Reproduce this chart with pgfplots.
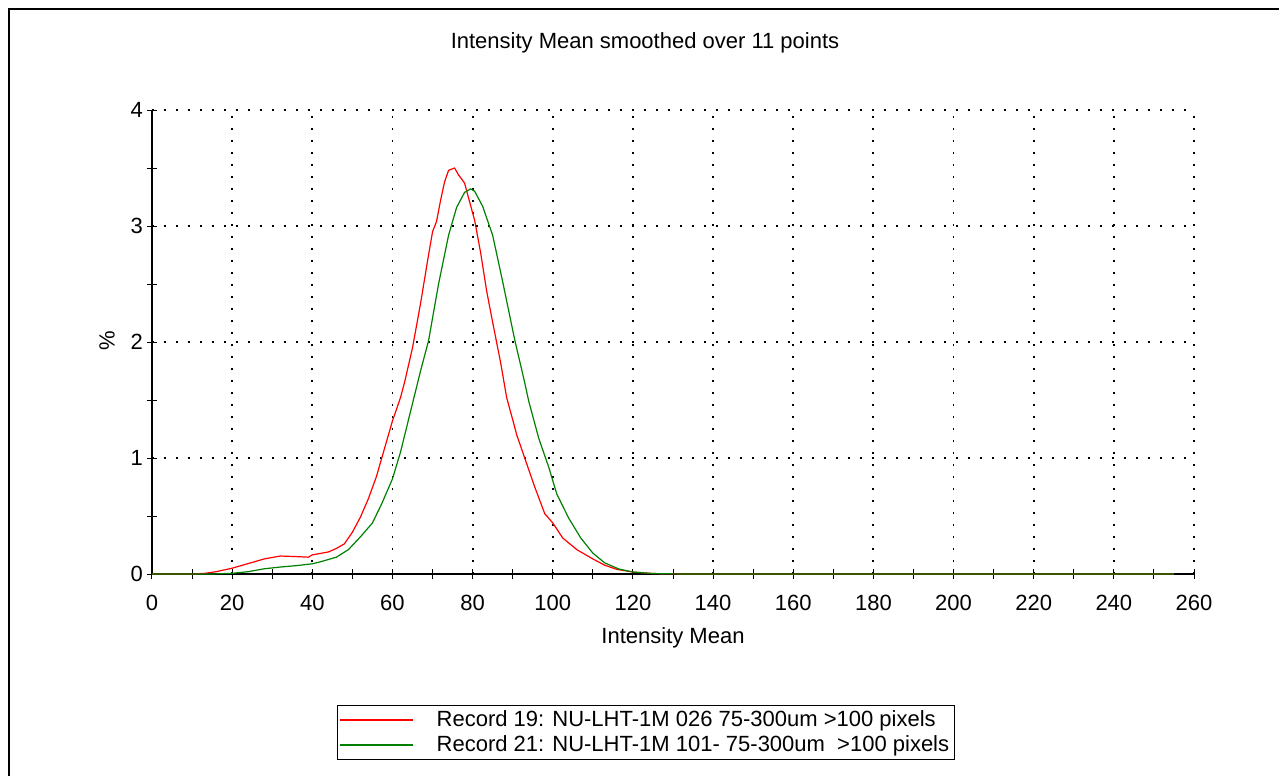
\documentclass[border=0pt]{standalone}
\usepackage{fontspec}
\setmainfont{Liberation Sans}
\usepackage{pgfplots}
\pgfplotsset{compat=1.18}
\definecolor{rec19}{RGB}{255,0,0}
\definecolor{rec21}{RGB}{0,128,0}
\begin{document}
\begin{tikzpicture}[font=\fontsize{11}{13.2}\selectfont]
\useasboundingbox (-76pt,-101pt) rectangle (563.5pt,287pt);
\draw[line width=0.8pt] (-71.5pt,-101pt) -- (-71.5pt,282.5pt) -- (563.5pt,282.5pt);
\begin{axis}[
  at={(0pt,0pt)}, anchor=south west,
  scale only axis, width=521pt, height=232pt,
  xmin=0, xmax=260, ymin=0, ymax=4,
  xtick distance=20, ytick distance=1,
  minor x tick num=1, minor y tick num=1,
  axis lines=left, axis line style={-, black, line width=0.6pt},
  tick align=center, major tick length=5pt, minor tick length=5pt,
  tick style={black, line width=0.5pt},
  grid=major,
  major grid style={black, line width=0.9pt, dash pattern=on 0.9pt off 5.1pt},
  /pgf/number format/assume math mode=true,
  xticklabel style={yshift=-4.5pt},
  yticklabel style={xshift=1.5pt},
  xlabel={Intensity Mean},
  xlabel style={at={(axis description cs:0.5,-0.138)}, anchor=center},
  ylabel={\%},
  ylabel style={at={(axis description cs:-0.0432,0.502)}, anchor=center},
  legend cell align=left,
  legend image code/.code={\draw[#1] (0pt,0pt) -- (36.5pt,0pt);},
  legend style={at={(axis description cs:0.1775,-0.2823)}, anchor=north west,
    draw=black, line width=0.5pt, inner xsep=1pt, inner ysep=1pt,
    nodes={inner sep=1.5pt}, row sep=0pt,
    /tikz/every odd column/.append style={column sep=10pt}},
]
\addplot[rec19, line width=0.6pt] coordinates {
(0,0) (10,0) (13,0.005) (16,0.02) (20,0.05) (24,0.09) (28,0.13) (32,0.155)
(36,0.15) (39,0.145) (40,0.165) (44,0.19) (46,0.22) (48,0.26) (50,0.36)
(52,0.49) (54,0.65) (56,0.84) (58,1.08) (60,1.32) (62,1.52) (63,1.65)
(65,1.95) (67,2.33) (69,2.75) (70,2.95) (71,3.04) (72,3.22) (73,3.38)
(74,3.48) (75.5,3.50) (76.5,3.44) (78,3.37) (79,3.24) (80.5,3.05) (82,2.77)
(83.5,2.44) (85,2.17) (87,1.82) (88.5,1.52) (90,1.33) (91,1.20) (93,1.00)
(95.5,0.75) (98,0.52) (100,0.44) (102.5,0.31) (106,0.21) (110,0.13)
(113,0.075) (116,0.04) (120,0.017) (125,0.004) (130,0.001) (140,0) (255,0)
};
\addlegendentry{Record 19: NU-LHT-1M 026 75-300um >100 pixels}
\addplot[rec21, line width=0.6pt] coordinates {
(0,0) (15,0) (20,0.006) (24,0.02) (28,0.045) (32,0.06) (36,0.072) (40,0.088)
(42,0.105) (44,0.125) (46,0.145) (49,0.21) (52,0.32) (55,0.44) (57.25,0.60)
(60,0.82) (62,1.05) (64.5,1.40) (67,1.75) (69,2.01) (71.5,2.50) (74,2.92)
(76,3.16) (78,3.29) (79.5,3.32) (80.5,3.30) (82.5,3.17) (85,2.92) (87.5,2.52)
(90.5,2.02) (93,1.65) (94,1.49) (96.5,1.17) (99,0.92) (101,0.69) (104,0.48)
(107,0.31) (110,0.18) (113,0.095) (116.5,0.043) (120,0.017) (125,0.004)
(130,0.001) (140,0) (255,0)
};
\addlegendentry{Record 21: NU-LHT-1M 101- 75-300um\ \ >100 pixels}
\end{axis}
\node at (246.5pt,265.5pt) {Intensity Mean smoothed over 11 points};
\end{tikzpicture}
\end{document}
